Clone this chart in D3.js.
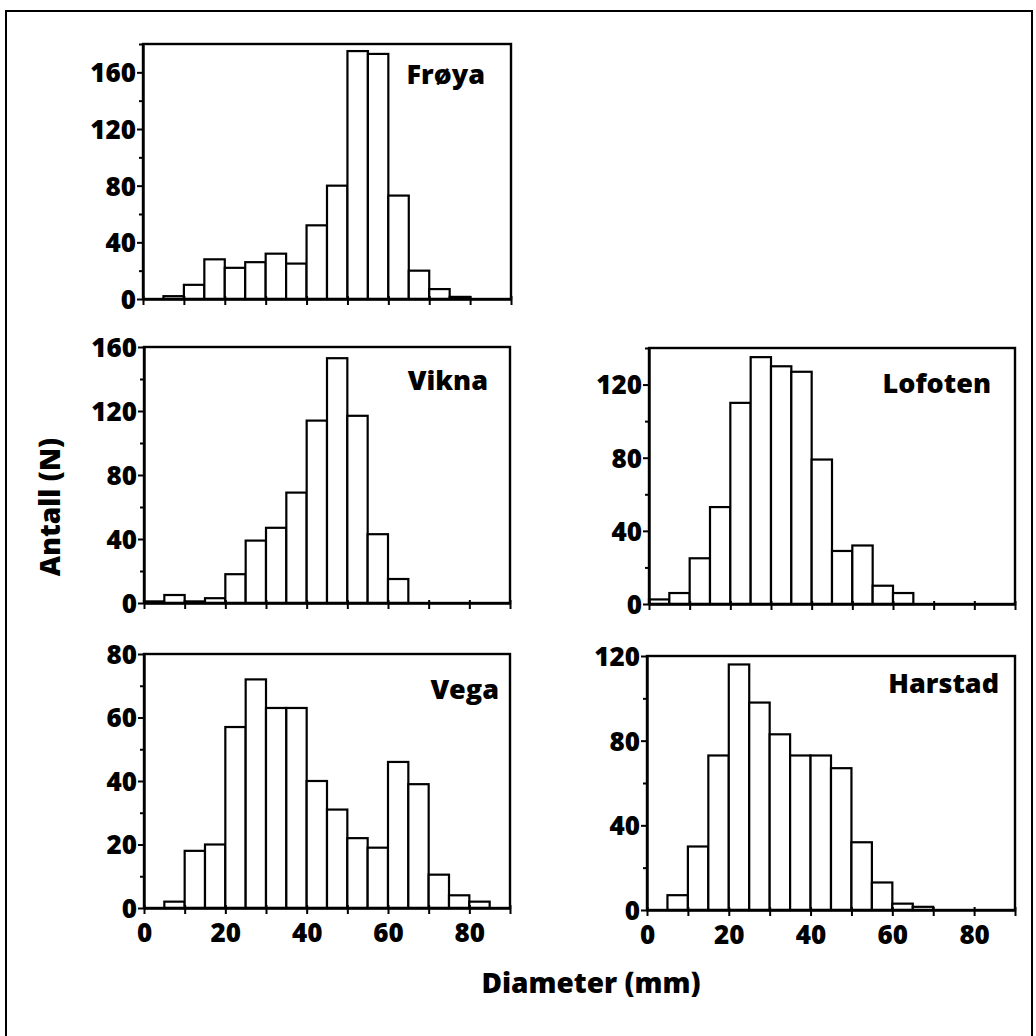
<!DOCTYPE html>
<html>
<head>
<meta charset="utf-8">
<script src="https://cdn.jsdelivr.net/npm/d3@7"></script>
<style>
  html, body { margin: 0; padding: 0; background: #fff; }
  svg { display: block; }
  text { font-family: "Open Sans", "Noto Sans", sans-serif; font-weight: 800; fill: #000; }
</style>
</head>
<body>
<svg id="chart" width="1036" height="1036"></svg>
<script>
// ---- Data (counts per 5 mm diameter class, classes start at 0,5,...,85) ----
const binStarts = [0, 5, 10, 15, 20, 25, 30, 35, 40, 45, 50, 55, 60, 65, 70, 75, 80, 85];
const binWidth = 5;
const froya   = [0, 2, 10, 28, 22, 26, 32, 25, 52, 80, 175, 173, 73, 20, 7, 1.5, 0, 0];
const vikna   = [1, 5, 1, 3, 18, 39, 47, 69, 114, 153, 117, 43, 15, 0, 0, 0, 0, 0];
const vega    = [0, 2, 18, 20, 57, 72, 63, 63, 40, 31, 22, 19, 46, 39, 10.5, 4, 2, 0];
const lofoten = [2.5, 6, 25, 53, 110, 135, 130, 127, 79, 29, 32, 10, 6, 0, 0, 0, 0, 0];
const harstad = [0, 7, 30, 73, 116, 98, 83, 73, 73, 67, 32, 13, 3, 1.5, 0, 0, 0, 0];

const panelNames = ["Frøya", "Vikna", "Vega", "Lofoten", "Harstad"];
const panelSeries = [froya, vikna, vega, lofoten, harstad];
const yMax = [180, 160, 80, 140, 120];
const yLabelTicks = [[0, 40, 80, 120, 160], [0, 40, 80, 120, 160], [0, 20, 40, 60, 80], [0, 40, 80, 120], [0, 40, 80, 120]];
const yMinorStep = [20, 20, 10, 20, 20];
const xDomain = [0, 90];
const xLabelTicks = [0, 20, 40, 60, 80];
const xTickStep = 10;
const showXLabels = [false, false, true, false, true];
const yTitle = "Antall (N)";
const xTitle = "Diameter (mm)";

// ---- Layout ----
const layout = [
  { x0: 143, x1: 511, y0: 44,  y1: 299, lx: 485, ly: 84 },
  { x0: 144, x1: 510, y0: 347, y1: 603, lx: 488, ly: 390 },
  { x0: 144, x1: 510, y0: 654, y1: 908, lx: 499, ly: 699 },
  { x0: 649, x1: 1015, y0: 348, y1: 604, lx: 991, ly: 393 },
  { x0: 647, x1: 1015, y0: 656, y1: 910, lx: 999, ly: 693 }
];

const svg = d3.select("#chart");

// outer frame
svg.append("rect")
  .attr("x", 6).attr("y", 11).attr("width", 1026).attr("height", 1040)
  .attr("fill", "none").attr("stroke", "#000").attr("stroke-width", 2);

panelSeries.forEach((series, i) => {
  const L = layout[i];
  const x = d3.scaleLinear().domain(xDomain).range([L.x0, L.x1]);
  const y = d3.scaleLinear().domain([0, yMax[i]]).range([L.y1, L.y0]);
  const g = svg.append("g");

  // bars
  const bins = binStarts.map((s, k) => ({ s, v: series[k] })).filter(d => d.v > 0);
  g.selectAll("rect.bar").data(bins).enter().append("rect")
    .attr("class", "bar")
    .attr("x", d => x(d.s))
    .attr("width", d => x(d.s + binWidth) - x(d.s))
    .attr("y", d => y(d.v))
    .attr("height", d => y(0) - y(d.v))
    .attr("fill", "#fff").attr("stroke", "#000").attr("stroke-width", 2.2);

  // frame
  g.append("rect")
    .attr("x", L.x0).attr("y", L.y0)
    .attr("width", L.x1 - L.x0).attr("height", L.y1 - L.y0)
    .attr("fill", "none").attr("stroke", "#000").attr("stroke-width", 2.4);

  // x axis ticks
  const xTicks = d3.range(xDomain[0], xDomain[1] + 0.001, xTickStep);
  const xAxis = d3.axisBottom(x).tickValues(xTicks).tickSize(6).tickSizeOuter(0)
    .tickFormat(d => (showXLabels[i] && xLabelTicks.includes(d)) ? d : "");
  const xa = g.append("g").attr("transform", `translate(0,${L.y1})`).call(xAxis);
  xa.select(".domain").attr("stroke-width", 2.4);
  xa.selectAll(".tick line").attr("stroke-width", 2).attr("y1", -3);
  xa.selectAll(".tick text").attr("font-size", 26).attr("dy", "0.71em").attr("y", 16);

  // y axis: minor ticks
  const minor = d3.range(0, yMax[i] + 0.001, yMinorStep[i]).filter(v => !yLabelTicks[i].includes(v));
  const yMinorAxis = d3.axisLeft(y).tickValues(minor).tickSize(4).tickFormat("").tickSizeOuter(0);
  const ym = g.append("g").attr("transform", `translate(${L.x0},0)`).call(yMinorAxis);
  ym.select(".domain").remove();
  ym.selectAll(".tick line").attr("stroke-width", 2);

  // y axis: labelled ticks
  const yAxis = d3.axisLeft(y).tickValues(yLabelTicks[i]).tickSize(6).tickSizeOuter(0);
  const ya = g.append("g").attr("transform", `translate(${L.x0},0)`).call(yAxis);
  ya.select(".domain").attr("stroke-width", 2.4);
  ya.selectAll(".tick line").attr("stroke-width", 2);
  ya.selectAll(".tick text").attr("font-size", 26).attr("x", -7).attr("dy", "0.36em");

  svg.selectAll(".domain").attr("stroke", "#000");

  // panel label
  g.append("text")
    .attr("x", L.lx).attr("y", L.ly)
    .attr("text-anchor", "end")
    .attr("font-size", 27)
    .text(panelNames[i]);
});

// axis titles
svg.append("text")
  .attr("transform", "translate(60,507) rotate(-90)")
  .attr("text-anchor", "middle")
  .attr("font-size", 28)
  .text(yTitle);

svg.append("text")
  .attr("x", 591).attr("y", 993)
  .attr("text-anchor", "middle")
  .attr("font-size", 28)
  .text(xTitle);
</script>
</body>
</html>
